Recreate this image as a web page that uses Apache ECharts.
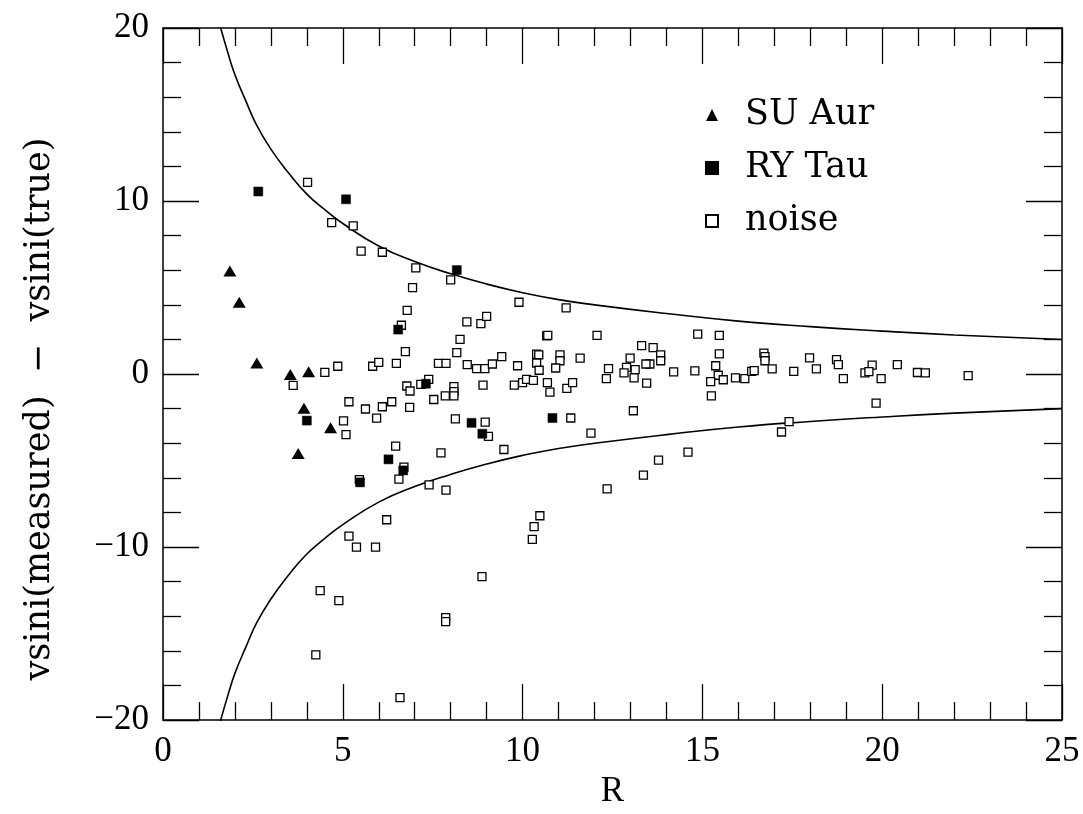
<!DOCTYPE html>
<html>
<head>
<meta charset="utf-8">
<script src="https://cdn.jsdelivr.net/npm/echarts@6/dist/echarts.min.js"></script>
<style>
html,body{margin:0;padding:0;background:#fff;overflow:hidden;}
#chart{width:1083px;height:814px;}
</style>
</head>
<body>
<div id="chart"></div>
<script>
// ---- data ----
const suAur = [[1.86,5.95],[2.12,4.15],[2.61,0.64],[3.54,-0.03],[4.05,0.13],[3.92,-1.97],[4.66,-3.1],[3.76,-4.59]];
const ryTau = [[2.65,10.55],[5.09,10.10],[8.17,6.01],[6.54,2.57],[4.0,-2.69],[5.48,-6.26],[6.27,-4.93],[6.68,-5.57],[7.31,-0.56],[8.58,-2.82],[8.88,-3.45],[10.83,-2.54]];
const noise = [
 [4.02,11.08],[4.69,8.75],[5.29,8.56],[5.51,7.11],[6.10,7.04],[7.03,6.14],[8.00,5.44],[6.94,4.99],[6.79,3.68],[6.63,2.82],
 [9.90,4.15],[8.45,3.01],[8.84,2.92],[9.00,3.33],[8.26,2.00],[10.67,2.21],[10.70,2.23],[6.74,1.30],[8.17,1.24],[9.42,1.01],
 [10.39,1.15],[10.45,1.11],[4.86,0.45],[4.50,0.10],[5.83,0.45],[6.00,0.67],[6.49,0.62],[7.66,0.62],[7.87,0.62],[8.46,0.54],
 [8.72,0.31],[8.95,0.31],[9.16,0.58],[9.86,0.48],[10.39,0.64],[10.46,0.22],[3.62,-0.66],[6.78,-0.69],[6.87,-0.98],[7.17,-0.60],
 [7.39,-0.31],[8.09,-0.73],[8.09,-1.01],[8.09,-1.26],[7.85,-1.26],[7.53,-1.47],[8.90,-0.64],[9.77,-0.64],[10.00,-0.50],[10.11,-0.31],
 [10.30,-0.37],[10.69,-0.50],[10.76,-1.04],[5.17,-1.60],[5.63,-2.02],[5.94,-2.55],[6.10,-1.89],[6.36,-1.60],[6.86,-1.93],[5.02,-2.71],
 [5.09,-3.50],[8.13,-2.59],[8.96,-2.78],[9.05,-3.60],[9.48,-4.36],[6.47,-4.17],[7.73,-4.55],[6.70,-5.38],[6.56,-6.07],[5.46,-6.10],
 [7.40,-6.41],[7.87,-6.71],[6.22,-8.42],[10.48,-8.19],[10.32,-8.82],[10.27,-9.56],[5.17,-9.37],[5.38,-10.00],[5.91,-10.00],[8.87,-11.71],
 [4.37,-12.52],[4.89,-13.10],[7.86,-14.08],[7.86,-14.31],[4.25,-16.23],[6.59,-18.70],[11.21,3.83],[12.07,2.23],[13.31,1.64],[13.63,1.53],
 [13.84,1.11],[13.84,0.77],[13.54,0.58],[13.43,0.58],[12.99,0.92],[12.89,0.39],[13.13,0.26],[12.82,0.07],[13.10,-0.22],[13.45,-0.52],
 [12.39,0.31],[12.33,-0.26],[13.08,-2.12],[11.60,0.92],[11.04,1.11],[11.04,0.77],[10.92,0.35],[11.23,-0.83],[11.39,-0.50],[11.34,-2.54],
 [11.90,-3.41],[13.78,-4.97],[13.36,-5.84],[12.35,-6.64],[14.87,2.31],[15.47,2.23],[15.47,1.17],[14.20,0.13],[14.79,0.18],[15.37,0.48],
 [15.44,-0.07],[15.23,-0.44],[15.58,-0.33],[15.25,-1.26],[15.92,-0.22],[16.18,-0.27],[16.37,0.16],[16.44,0.20],[16.71,1.21],[16.74,1.01],
 [16.74,0.77],[16.94,0.30],[17.54,0.16],[17.98,0.94],[18.17,0.30],[18.73,0.83],[18.78,0.54],[18.92,-0.27],[17.41,-2.75],[17.20,-3.35],
 [14.60,-4.51],[19.72,0.52],[19.52,0.07],[19.63,0.14],[19.97,-0.26],[20.42,0.54],[20.98,0.09],[21.20,0.07],[22.39,-0.09],[19.83,-1.68]
];
const curveR =     [1.55, 1.8, 2.0, 2.3, 2.6, 3.0, 3.5, 4.0, 4.5, 5.0, 6.0, 7.0, 8.0, 9.0, 10, 11, 12, 14, 16, 18, 20, 22, 25];
const curveUpper = [20.4,18.6,17.3,15.8,14.4,13.0,11.6,10.4, 9.5, 8.7, 7.4, 6.5, 5.8, 5.2, 4.7,4.3,4.0,3.5,3.06,2.74,2.48,2.26,2.0];
const curveLower = [-20.4,-18.6,-17.3,-15.8,-14.4,-13.0,-11.6,-10.4,-9.5,-8.7,-7.4,-6.5,-5.8,-5.2,-4.7,-4.3,-4.0,-3.5,-3.06,-2.74,-2.48,-2.26,-2.0];
const xTicks = {min:0, max:25, interval:5};
const yTicks = {min:-20, max:20, interval:10};
const seriesNames = ['SU Aur','RY Tau','noise'];
const yTitle = 'vsini(measured)  \u2212  vsini(true)';
const xTitle = 'R';

// ---- chart ----
const chart = echarts.init(document.getElementById('chart'), null, {renderer:'canvas', width:1083, height:814});
const tickFont = 'Liberation Serif';
const black = '#000';
function axisBase(show){
  return {
    axisLine:{show:true,onZero:false,lineStyle:{color:black,width:1.5}},
    axisTick:{show:true,inside:true,length:36,lineStyle:{color:black,width:1.3}},
    minorTick:{show:true,splitNumber:5,length:18,lineStyle:{color:black,width:1.3}},
    splitLine:{show:false},
    axisLabel:{show:show,color:black,fontFamily:tickFont,fontSize:35,margin:14,
      formatter:v=>String(v).replace('-','\u2212')}
  };
}
const zipCurve = arr => curveR.map((r,i)=>[r,arr[i]]);

chart.setOption({
  backgroundColor:'#fff',
  animation:false,
  grid:{left:163,width:899,top:28,height:703,containLabel:false},
  xAxis:[
    Object.assign({type:'value',position:'bottom',min:xTicks.min,max:xTicks.max,interval:xTicks.interval,
      name:xTitle,nameLocation:'middle',nameGap:50,
      nameTextStyle:{color:black,fontFamily:tickFont,fontSize:35}},axisBase(true)),
    Object.assign({type:'value',position:'top',min:xTicks.min,max:xTicks.max,interval:xTicks.interval},axisBase(false))
  ],
  yAxis:[
    Object.assign({type:'value',position:'left',min:yTicks.min,max:yTicks.max,interval:yTicks.interval},axisBase(true)),
    Object.assign({type:'value',position:'right',min:yTicks.min,max:yTicks.max,interval:yTicks.interval},axisBase(false))
  ],
  legend:{
    orient:'vertical',left:700,top:92,itemGap:17,itemWidth:12,itemHeight:12,
    data:seriesNames,
    textStyle:{color:black,fontFamily:'DejaVu Serif',fontSize:35,lineHeight:36,padding:[0,0,0,22]}
  },
  graphic:[{
    type:'text',x:40,y:409,rotation:Math.PI/2,
    style:{text:yTitle,fill:black,font:'35px "DejaVu Serif"',textAlign:'center',textVerticalAlign:'middle'}
  }],
  series:[
    {name:'upper',type:'line',data:zipCurve(curveUpper),smooth:true,showSymbol:false,symbol:'none',
      lineStyle:{color:black,width:1.6},clip:true,silent:true,z:1},
    {name:'lower',type:'line',data:zipCurve(curveLower),smooth:true,showSymbol:false,symbol:'none',
      lineStyle:{color:black,width:1.6},clip:true,silent:true,z:1},
    {name:seriesNames[2],type:'scatter',data:noise,symbol:'rect',symbolSize:8,
      itemStyle:{color:'#fff',borderColor:black,borderWidth:1.3,opacity:1},z:2},
    {name:seriesNames[1],type:'scatter',data:ryTau,symbol:'rect',symbolSize:9,
      itemStyle:{color:black,borderColor:black,borderWidth:0.5,opacity:1},z:3},
    {name:seriesNames[0],type:'scatter',data:suAur,symbol:'triangle',symbolSize:[13,11],
      itemStyle:{color:black,opacity:1},z:3}
  ]
});
</script>
</body>
</html>
